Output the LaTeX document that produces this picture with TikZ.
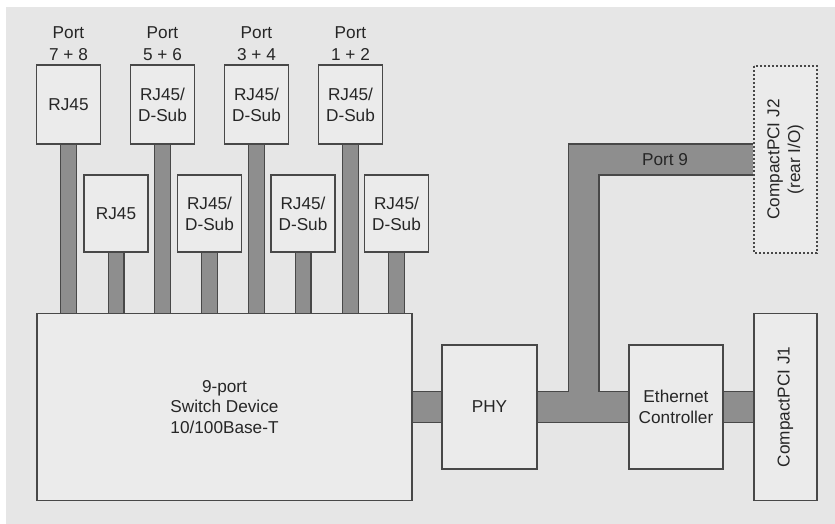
\documentclass[tikz,border=0pt]{standalone}
\usepackage{fontspec}
\setmainfont{Liberation Sans}
\usetikzlibrary{positioning, backgrounds}
\definecolor{bgGray}{HTML}{E6E6E6}
\definecolor{boxGray}{HTML}{EBEBEB}
\definecolor{barGray}{HTML}{8E8E8E}
\definecolor{lineGray}{HTML}{484848}

\begin{document}
\begin{tikzpicture}[x=0.5pt, y=-0.5pt,
    every node/.style={font=\fontsize{8.6}{10.4}\selectfont, align=center, text=black!85},
    unit/.style={draw=lineGray, line width=0.7pt, fill=boxGray, inner sep=0pt},
    portlbl/.style={inner sep=0.5pt, font=\fontsize{8.6}{11}\selectfont},
    portbar/.style={draw=lineGray, line width=0.6pt, double=barGray, double distance=7.3pt},
    mainbar/.style={draw=lineGray, line width=0.6pt, double=barGray, double distance=14.8pt}]
    \useasboundingbox (0,0) rectangle (835,524);
    % upper connector row
    \foreach \lbl/\i/\x/\prt in {{RJ45}/1/68.5/{7 + 8}, {RJ45/\\D-Sub}/2/162.5/{5 + 6}, {RJ45/\\D-Sub}/3/256.5/{3 + 4}, {RJ45/\\D-Sub}/4/350.5/{1 + 2}} {
      \node[unit, minimum width=32pt, minimum height=39.5pt] (top\i) at (\x,104.5) {\lbl};
      \node[portlbl, above=1pt of top\i] (port\i) {Port\\\prt};
    }
    % lower connector row
    \foreach \lbl/\i/\x in {{RJ45}/1/116, {RJ45/\\D-Sub}/2/209.5, {RJ45/\\D-Sub}/3/303, {RJ45/\\D-Sub}/4/396.5}
      \node[unit, minimum width=32pt, minimum height=38.5pt] (low\i) at (\x,213.5) {\lbl};
    % switch and controller chain
    \node[unit, minimum width=187.5pt, minimum height=93.5pt] (switch) at (224.5,407) {9-port\\Switch Device\\10/100Base-T};
    \node[unit, minimum width=47.5pt, minimum height=62pt] (phy) at (489.5,407) {PHY};
    \node[unit, minimum width=47pt, minimum height=62pt] (eth) at (676,407) {Ethernet\\Controller};
    \node[unit, rotate=90, minimum width=93.5pt, minimum height=31.5pt] (jone) at (785.5,407) {CompactPCI J1};
    \node[unit, dashed, dash pattern=on 1.2pt off 0.8pt, rotate=90, minimum width=93.5pt, minimum height=31.5pt] (jtwo) at (785.5,159.5) {CompactPCI J2\\(rear I/O)};
    % bars
    \begin{scope}[on background layer]
      \fill[bgGray] (6,7) rectangle (835,524);
      \foreach \i in {1,...,4} {
        \draw[portbar] (top\i.south) -- (top\i.south |- switch.north);
        \draw[portbar] (low\i.south) -- (low\i.south |- switch.north);
      }
      \draw[mainbar] (switch.east) -- (phy.west);
      \draw[mainbar] (phy.east) -- (eth.west) (583.5,407) |- node[pos=0.74] {Port 9} (jtwo.north);
      \draw[mainbar] (eth.east) -- (jone.north);
    \end{scope}
  \end{tikzpicture}
\end{document}
